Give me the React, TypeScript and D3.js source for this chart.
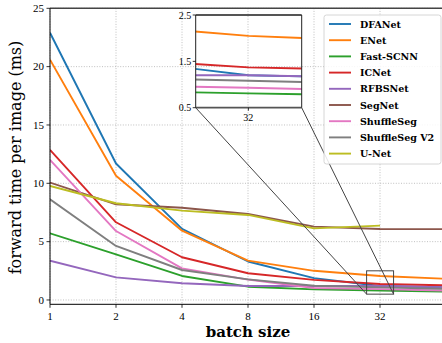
import { useEffect, useRef } from 'react';
import * as d3 from 'd3';

// batch sizes on the x axis (log2)
const batchSizes = [1, 2, 4, 8, 16, 32, 64];
const xTicks = [1, 2, 4, 8, 16, 32];
const yTicks = [0, 5, 10, 15, 20, 25];
const insetYTicks = [0.5, 1.5, 2.5];
const insetXTicks = [32];

const models = ['DFANet', 'ENet', 'Fast-SCNN', 'ICNet', 'RFBSNet', 'SegNet', 'ShuffleSeg', 'ShuffleSeg V2', 'U-Net'];
const colors = ['#1f77b4', '#ff7f0e', '#2ca02c', '#d62728', '#9467bd', '#8c564b', '#e377c2', '#7f7f7f', '#bcbd22'];

// forward time per image (ms), one value per batch size
const dfanet = [22.9, 11.7, 6.1, 3.3, 1.87, 1.2, 1.08];
const enet = [20.6, 10.65, 5.94, 3.37, 2.5, 2.05, 1.82];
const fastScnn = [5.71, 3.91, 2.06, 1.14, 0.91, 0.81, 0.71];
const icnet = [12.86, 6.66, 3.66, 2.29, 1.72, 1.37, 1.25];
const rfbsnet = [3.37, 1.94, 1.43, 1.2, 1.2, 1.2, 1.1];
const segnet = [10.06, 8.2, 7.91, 7.37, 6.29, 6.09, 6.07];
const shuffleSeg = [12.0, 5.91, 2.71, 1.75, 1.03, 0.93, 0.8];
const shuffleSegV2 = [8.63, 4.63, 2.57, 1.77, 1.22, 1.08, 0.95];
const unet = [9.77, 8.29, 7.66, 7.29, 6.14, 6.37];

const series = [dfanet, enet, fastScnn, icnet, rfbsnet, segnet, shuffleSeg, shuffleSegV2, unet];

const W = 442;
const H = 343;

export default function App() {
  const svgRef = useRef<SVGSVGElement>(null);

  useEffect(() => {
    if (!svgRef.current) return;
    const svg = d3.select(svgRef.current);
    svg.selectAll('*').remove();

    const left = 50;
    const top = 8.3;
    const bottom = 304.3;

    const x = d3.scaleLog().base(2).domain([1, 64]).range([left, 446]);
    const y = d3.scaleLinear().domain([-0.37, 25]).range([bottom, top]);

    const defs = svg.append('defs');
    defs.append('clipPath').attr('id', 'main-clip')
      .append('rect').attr('x', left).attr('y', top).attr('width', 446 - left).attr('height', bottom - top);

    const tickFont = 'Liberation Serif, serif';
    const labelFont = 'DejaVu Serif, serif';

    // grid
    const grid = svg.append('g')
      .attr('stroke', '#b0b0b0').attr('stroke-width', 0.8).attr('stroke-dasharray', '1,1.6');
    xTicks.forEach((t) => {
      grid.append('line').attr('x1', x(t)).attr('x2', x(t)).attr('y1', top).attr('y2', bottom);
    });
    yTicks.forEach((t) => {
      grid.append('line').attr('x1', left).attr('x2', W).attr('y1', y(t)).attr('y2', y(t));
    });

    // series lines
    const line = d3.line<number>()
      .x((_, i) => x(batchSizes[i]))
      .y((d) => y(d));

    const lines = svg.append('g').attr('clip-path', 'url(#main-clip)');
    series.forEach((s, i) => {
      lines.append('path')
        .attr('d', line(s))
        .attr('fill', 'none')
        .attr('stroke', colors[i])
        .attr('stroke-width', 1.9)
        .attr('stroke-linejoin', 'round');
    });

    // spines
    svg.append('line').attr('x1', left).attr('x2', W).attr('y1', top).attr('y2', top)
      .attr('stroke', '#444').attr('stroke-width', 1.6);
    svg.append('line').attr('x1', left).attr('x2', W).attr('y1', bottom).attr('y2', bottom)
      .attr('stroke', '#000').attr('stroke-width', 1);
    svg.append('line').attr('x1', left).attr('x2', left).attr('y1', top).attr('y2', bottom)
      .attr('stroke', '#000').attr('stroke-width', 1);

    // x ticks
    xTicks.forEach((t) => {
      svg.append('line').attr('x1', x(t)).attr('x2', x(t)).attr('y1', bottom).attr('y2', bottom + 3.5)
        .attr('stroke', '#000').attr('stroke-width', 0.8);
      svg.append('text').attr('x', x(t)).attr('y', bottom + 15.5)
        .attr('text-anchor', 'middle').style('font-family', tickFont).style('font-size', '11px')
        .text(t);
    });
    // y ticks
    yTicks.forEach((t) => {
      svg.append('line').attr('x1', left - 3.5).attr('x2', left).attr('y1', y(t)).attr('y2', y(t))
        .attr('stroke', '#000').attr('stroke-width', 0.8);
      svg.append('text').attr('x', left - 6).attr('y', y(t) + 3.8)
        .attr('text-anchor', 'end').style('font-family', tickFont).style('font-size', '11px')
        .text(t);
    });

    // axis labels
    svg.append('text').attr('x', 248).attr('y', 337)
      .attr('text-anchor', 'middle').style('font-family', labelFont).style('font-size', '15px')
      .style('font-weight', 'bold').text('batch size');
    svg.append('text').attr('transform', 'translate(20.5,157.5) rotate(-90)')
      .attr('text-anchor', 'middle').style('font-family', labelFont).style('font-size', '16px')
      .text('forward time per image (ms)');

    // inset
    const ix0 = 27.8;
    const ix1 = 36.9;
    const iy0 = 0.5;
    const iy1 = 2.5;
    const ix = d3.scaleLog().base(2).domain([ix0, ix1]).range([195.7, 301.7]);
    const iy = d3.scaleLinear().domain([iy0, iy1]).range([107.7, 15]);

    // zoom rectangle + connectors
    const mark = svg.append('g').attr('stroke', '#444').attr('stroke-width', 1).attr('fill', 'none');
    mark.append('rect').attr('x', x(ix0)).attr('y', y(iy1))
      .attr('width', x(ix1) - x(ix0)).attr('height', y(iy0) - y(iy1));
    mark.append('line').attr('x1', ix(ix0)).attr('y1', iy(iy0)).attr('x2', x(ix0)).attr('y2', y(iy0));
    mark.append('line').attr('x1', ix(ix1)).attr('y1', iy(iy0)).attr('x2', x(ix1)).attr('y2', y(iy0));

    defs.append('clipPath').attr('id', 'inset-clip')
      .append('rect').attr('x', ix(ix0)).attr('y', iy(iy1))
      .attr('width', ix(ix1) - ix(ix0)).attr('height', iy(iy0) - iy(iy1));

    const iline = d3.line<number>()
      .x((_, i) => ix(batchSizes[i]))
      .y((d) => iy(d));
    const ilines = svg.append('g').attr('clip-path', 'url(#inset-clip)');
    series.forEach((s, i) => {
      ilines.append('path')
        .attr('d', iline(s))
        .attr('fill', 'none')
        .attr('stroke', colors[i])
        .attr('stroke-width', 1.9);
    });

    svg.append('line').attr('x1', ix(ix0)).attr('x2', ix(ix1)).attr('y1', iy(iy1)).attr('y2', iy(iy1))
      .attr('stroke', '#555').attr('stroke-width', 1.8);
    svg.append('line').attr('x1', ix(ix0)).attr('x2', ix(ix1)).attr('y1', iy(iy0)).attr('y2', iy(iy0))
      .attr('stroke', '#555').attr('stroke-width', 1.8);
    [ix0, ix1].forEach((v) => {
      svg.append('line').attr('x1', ix(v)).attr('x2', ix(v)).attr('y1', iy(iy1)).attr('y2', iy(iy0))
        .attr('stroke', '#222').attr('stroke-width', 1);
    });
    insetYTicks.forEach((t) => {
      svg.append('line').attr('x1', ix(ix0) - 3).attr('x2', ix(ix0)).attr('y1', iy(t)).attr('y2', iy(t))
        .attr('stroke', '#000').attr('stroke-width', 0.8);
      svg.append('text').attr('x', ix(ix0) - 4.5).attr('y', iy(t) + 3.5)
        .attr('text-anchor', 'end').style('font-family', tickFont).style('font-size', '10px')
        .text(t.toFixed(1));
    });
    insetXTicks.forEach((t) => {
      svg.append('line').attr('x1', ix(t)).attr('x2', ix(t)).attr('y1', iy(iy0)).attr('y2', iy(iy0) + 3)
        .attr('stroke', '#000').attr('stroke-width', 0.8);
      svg.append('text').attr('x', ix(t)).attr('y', iy(iy0) + 13)
        .attr('text-anchor', 'middle').style('font-family', tickFont).style('font-size', '10px')
        .text(t);
    });

    // legend
    const lg = svg.append('g');
    lg.append('rect').attr('x', 324).attr('y', 15).attr('width', 117).attr('height', 149)
      .attr('rx', 2.5).attr('fill', '#fff').attr('fill-opacity', 0.85)
      .attr('stroke', '#ccc').attr('stroke-width', 0.8);
    models.forEach((m, i) => {
      const ry = 24 + i * 16.2;
      lg.append('line').attr('x1', 329).attr('x2', 351).attr('y1', ry).attr('y2', ry)
        .attr('stroke', colors[i]).attr('stroke-width', 1.9);
      lg.append('text').attr('x', 360).attr('y', ry + 3.5)
        .style('font-family', labelFont).style('font-size', '9.5px').style('font-weight', 'bold')
        .text(m);
    });
  }, []);

  return (
    <svg
      ref={svgRef}
      width={W}
      height={H}
      style={{ position: 'fixed', left: 0, top: 0, background: '#fff' }}
    />
  );
}
